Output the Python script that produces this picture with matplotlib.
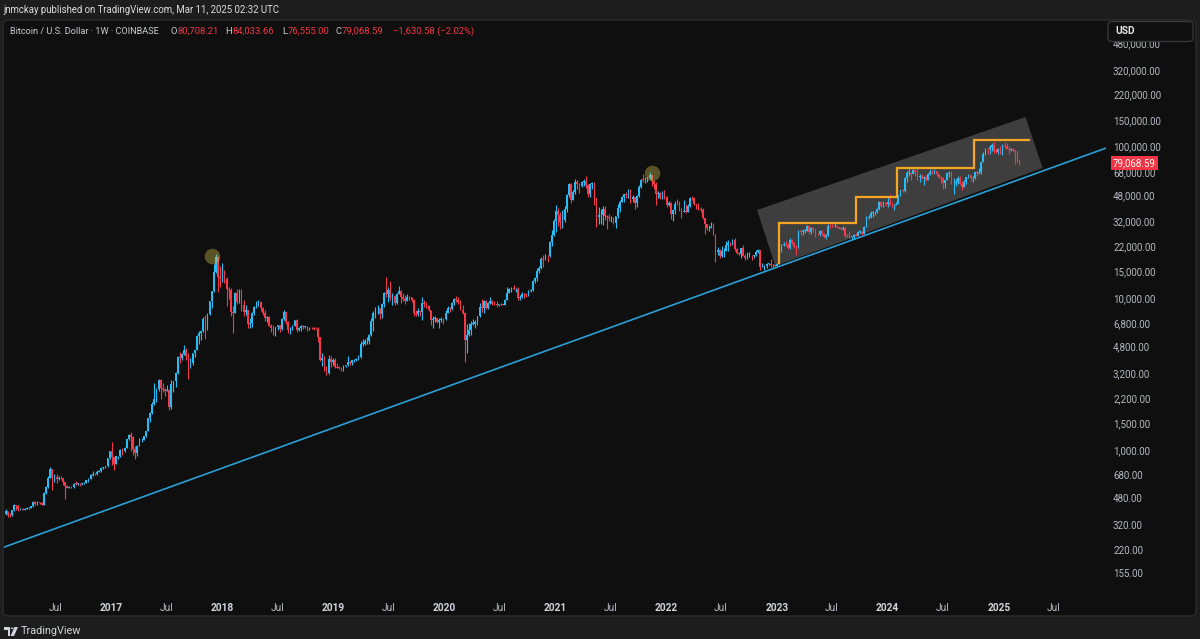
import numpy as np
import pandas as pd
import matplotlib
matplotlib.use('Agg')
import matplotlib.pyplot as plt
import matplotlib.dates as mdates
import matplotlib.transforms as mtrans
from matplotlib.patches import FancyBboxPatch, Polygon, Rectangle, Circle

plt.rcParams['font.family'] = ['Roboto', 'DejaVu Sans']

# weekly BTC candles, one list per year (close / high / low)
year_start = ['2016-01-04', '2017-01-02', '2018-01-01', '2019-01-07', '2020-01-06',
              '2021-01-04', '2022-01-03', '2023-01-02', '2024-01-01', '2025-01-06']
first_open = 431
last_open = 80708.21

close_2016 = [448, 382, 403, 378, 376, 407, 438, 432, 412, 414, 410, 416, 420, 421, 430, 460, 448, 459, 455, 442, 528, 575,
              664, 760, 665, 671, 648, 665, 658, 624, 590, 570, 578, 574, 608, 606, 609, 605, 612, 616, 638, 657, 698, 703,
              702, 730, 735, 766, 780, 790, 891, 998]
high_2016 = [465, 450, 412, 404, 392, 408, 445, 441, 440, 420, 420, 420, 425, 425, 432, 465, 470, 465, 462, 460, 535, 590,
             680, 780, 765, 705, 700, 680, 680, 665, 625, 600, 585, 590, 612, 630, 612, 612, 618, 620, 642, 660, 705, 740,
             720, 745, 745, 770, 780, 792, 900, 1000]
low_2016 = [425, 365, 375, 365, 364, 370, 400, 405, 400, 405, 405, 408, 412, 415, 418, 428, 440, 440, 448, 437, 440, 520,
            570, 660, 550, 620, 610, 645, 650, 600, 480, 570, 565, 570, 565, 600, 600, 590, 600, 605, 610, 628, 652, 680,
            698, 690, 725, 728, 755, 770, 788, 880]

close_2017 = [908, 822, 920, 920, 1015, 995, 1050, 1190, 1270, 1230, 1030, 965, 1080, 1180, 1180, 1250, 1345, 1640, 1780,
              2050, 2200, 2550, 2950, 2600, 2570, 2500, 2520, 1950, 2750, 2880, 3240, 4150, 4100, 4380, 4600, 4200, 3700,
              3800, 4400, 4600, 5700, 6000, 6150, 7400, 6550, 8000, 9700, 11300, 15000, 19100, 14000, 13800]
high_2017 = [1150, 910, 925, 925, 1030, 1050, 1065, 1200, 1290, 1330, 1260, 1070, 1090, 1210, 1220, 1260, 1350, 1650, 1800,
             2100, 2800, 2600, 2990, 3000, 2800, 2600, 2700, 2540, 2950, 2850, 3300, 4200, 4500, 4400, 4980, 4750, 4400,
             4100, 4450, 4600, 5850, 6200, 6200, 7600, 7900, 8100, 9750, 11400, 17000, 19800, 19200, 16500]
low_2017 = [810, 750, 820, 885, 915, 940, 990, 1050, 1180, 1000, 940, 890, 930, 1070, 1150, 1180, 1235, 1345, 1550, 1750,
            2000, 2100, 2500, 2200, 2450, 2300, 2480, 1850, 1900, 2450, 2650, 3200, 3800, 3950, 4300, 4000, 2980, 3500,
            3700, 4150, 4600, 5100, 5400, 6100, 5500, 6300, 7900, 8800, 11200, 14800, 11200, 12000]

close_2018 = [14200, 13600, 11600, 11500, 8200, 8100, 11000, 9600, 11500, 9200, 8200, 8500, 6900, 7000, 8100, 8900, 9400,
              9600, 8700, 8100, 7500, 7650, 6700, 6450, 6100, 6600, 6750, 6350, 7400, 8200, 7050, 6300, 6400, 6700, 7250,
              6250, 6500, 6700, 6600, 6600, 6300, 6450, 6420, 6400, 6350, 5600, 4000, 4100, 3500, 3250, 4050, 3850, 4000]
high_2018 = [17250, 15500, 14000, 12000, 11800, 9000, 11200, 11700, 11600, 11700, 9900, 9200, 8500, 7500, 8200, 9000, 9750,
             9950, 9700, 8900, 8500, 7800, 7800, 6900, 6800, 6600, 6800, 6800, 7500, 8500, 8250, 7150, 6600, 6800, 7300,
             7400, 6600, 6800, 6800, 6700, 6700, 6600, 6550, 6550, 6600, 6550, 5650, 4400, 4200, 3600, 4300, 4250, 4100]
low_2018 = [13000, 12800, 9000, 10000, 7700, 6000, 8100, 9300, 9400, 8400, 7700, 7900, 6500, 6500, 6600, 7900, 8700, 9000,
            8300, 7900, 7150, 7050, 6650, 6100, 5800, 5750, 6300, 6100, 6300, 7300, 6900, 6000, 5900, 6300, 6700, 6100,
            6200, 6150, 6400, 6500, 6150, 6350, 6350, 6300, 6350, 5200, 3900, 3600, 3350, 3150, 3200, 3580, 3700]

close_2019 = [3550, 3540, 3530, 3400, 3650, 3670, 3850, 3800, 3950, 4000, 4000, 4150, 5100, 5100, 5300, 5300, 5800, 7200,
              8100, 8700, 8700, 7950, 9300, 11000, 10800, 11450, 10200, 10500, 9500, 10800, 11400, 10300, 10100, 9750,
              10400, 10300, 9950, 8050, 7950, 8300, 8200, 9500, 9300, 9050, 8500, 7300, 7400, 7500, 7100, 7300, 7380, 7350]
high_2019 = [4100, 3800, 3620, 3550, 3700, 3700, 4200, 3900, 4000, 4050, 4100, 4300, 5300, 5500, 5500, 5650, 5900, 7500,
             8300, 8900, 9100, 8800, 9400, 11200, 13900, 12000, 13200, 11000, 10600, 11000, 12300, 11500, 10950, 10600,
             10900, 10450, 10400, 10100, 8500, 8800, 8400, 10400, 9900, 9600, 9100, 8500, 7800, 7750, 7550, 7500, 7650, 7500]
low_2019 = [3500, 3500, 3480, 3350, 3350, 3550, 3650, 3700, 3700, 3850, 3900, 3950, 4100, 4900, 5000, 5100, 5100, 5700,
            6200, 7500, 8000, 7450, 7500, 8900, 10300, 9600, 9900, 9100, 9100, 9350, 11000, 9500, 9800, 9350, 9700, 9900,
            9600, 7700, 7800, 7800, 7800, 7300, 8900, 8700, 8400, 6800, 6500, 7100, 6950, 6450, 7100, 6850]

close_2020 = [8100, 8700, 8600, 9400, 10100, 9900, 9650, 8550, 8050, 5400, 5800, 6250, 6900, 6900, 7100, 7700, 8900, 8700,
              9700, 8700, 9450, 9750, 9350, 9300, 9100, 9250, 9250, 9200, 9950, 11050, 11700, 11850, 11650, 11700, 10250,
              10350, 10900, 10750, 10650, 11400, 11500, 13100, 13800, 15450, 16000, 18400, 18200, 19350, 19150, 23800,
              26500, 33000]
high_2020 = [8500, 9000, 8900, 9600, 10200, 10500, 10300, 9950, 9200, 8200, 6900, 6950, 7200, 7450, 7300, 7800, 9400, 10000,
             9950, 9900, 9600, 10400, 9950, 9800, 9800, 9300, 9450, 9300, 10000, 12100, 11900, 12100, 12450, 11800, 12100,
             10700, 11100, 10980, 10950, 11500, 11750, 13350, 14000, 15950, 16500, 19000, 19500, 19900, 19500, 24300,
             28400, 34000]
low_2020 = [7300, 8100, 8250, 8500, 9200, 9600, 9300, 8500, 8000, 3850, 4450, 5700, 5850, 6750, 6450, 6800, 7600, 8200,
            8100, 8650, 8650, 9350, 9100, 9200, 8850, 8950, 9150, 9100, 9150, 9900, 10950, 11150, 11550, 11100, 9850,
            9900, 10200, 10150, 10400, 10550, 11200, 11400, 12800, 13200, 14850, 15800, 16300, 18000, 17600, 19000,
            22400, 26000]

close_2021 = [38200, 36000, 32300, 33100, 39200, 48600, 57500, 45200, 50900, 59000, 57500, 55800, 58800, 60000, 56200,
              49100, 57800, 58200, 46400, 34700, 35700, 35800, 39100, 35600, 34700, 34200, 34300, 31800, 35400, 39900,
              43800, 47000, 49300, 48800, 51800, 46000, 47300, 43200, 48200, 54900, 61500, 61300, 61300, 63300, 65500,
              59700, 57200, 49400, 50100, 46700, 50800, 47300]
high_2021 = [41900, 40100, 37800, 38500, 40900, 49700, 58300, 58200, 52600, 61800, 60600, 58300, 60200, 61600, 64900,
             57500, 58400, 59300, 59600, 46600, 40800, 39500, 41300, 41400, 36000, 36600, 35100, 34600, 35500, 42600,
             44800, 48200, 49200, 50500, 52900, 52900, 48800, 47300, 48500, 56500, 62000, 67000, 63700, 63900, 69000,
             66300, 59200, 59100, 51900, 50500, 51900, 52100]
low_2021 = [27800, 30400, 28900, 29300, 32300, 37500, 47000, 43000, 45000, 49300, 53300, 50400, 54800, 55500, 54000, 47000,
            47000, 53000, 42000, 30000, 31200, 31200, 31000, 33400, 28800, 32700, 32200, 31100, 29300, 34300, 37300,
            43800, 43900, 46400, 46600, 42800, 43400, 39600, 40800, 46900, 53900, 59500, 58000, 59500, 62300, 55600,
            53300, 42000, 46800, 45500, 45600, 45700]

close_2022 = [41900, 43100, 36300, 38500, 42400, 42200, 38400, 37700, 38400, 37800, 41300, 46800, 46400, 42200, 40400,
              39500, 38500, 34300, 31300, 29400, 29400, 29900, 26600, 20500, 21000, 19300, 20800, 20800, 22600, 23300,
              23200, 24400, 21500, 20300, 19800, 21800, 19400, 18800, 19300, 19400, 19200, 19600, 20600, 21000, 16300,
              16300, 16500, 17100, 17100, 16800, 16850, 16650]
high_2022 = [47600, 44500, 43500, 38900, 44500, 45800, 44700, 39800, 45400, 42600, 42400, 46900, 48200, 47500, 42400,
             42900, 40800, 40000, 34200, 31300, 30600, 32300, 31700, 26800, 22000, 21500, 22500, 21600, 24300, 24700,
             23700, 25000, 25200, 21900, 20600, 21800, 22700, 19900, 20400, 20500, 19700, 19700, 21000, 21500, 21000,
             17200, 16800, 17400, 17400, 18400, 17000, 16950]
low_2022 = [40500, 41200, 34000, 32900, 36300, 41700, 37900, 34300, 37400, 37100, 37600, 40500, 45200, 42000, 39200, 38500,
            37600, 33700, 26700, 28600, 28000, 29300, 26500, 17600, 19600, 18600, 19000, 18900, 20800, 20700, 22400,
            22700, 20800, 19800, 19500, 18600, 19300, 18200, 18500, 19100, 18200, 18800, 19300, 20100, 15600, 16200,
            15500, 16000, 16700, 16300, 16400, 16350]

close_2023 = [17100, 20900, 22700, 23000, 22900, 21800, 24600, 23500, 22200, 22100, 27900, 27800, 28200, 28300, 30300,
              27600, 29300, 28900, 26900, 26700, 28100, 27100, 25800, 26300, 30500, 30300, 30200, 30300, 29900, 29300,
              29000, 29400, 26100, 26000, 25800, 25800, 26500, 26200, 27900, 27900, 26800, 29900, 34500, 35000, 37100,
              37300, 37500, 39500, 43800, 41400, 43000, 42300]
high_2023 = [17200, 21300, 23000, 23800, 24200, 23400, 25200, 25000, 24000, 22600, 28600, 28900, 29200, 28800, 31000,
             30500, 30000, 30000, 29000, 27500, 28400, 28400, 27400, 26800, 31400, 31300, 31500, 31800, 30400, 30000,
             29900, 30200, 29700, 26800, 28100, 26100, 27000, 27500, 28100, 28600, 28000, 30300, 35200, 35900, 38000,
             37900, 38400, 40000, 44700, 44000, 44400, 43800]
low_2023 = [16500, 17100, 20600, 22300, 22500, 21400, 21500, 23100, 21900, 19600, 21900, 26600, 26600, 27200, 28200, 27000,
            26900, 27700, 25800, 26300, 25900, 26500, 25300, 24800, 26200, 29500, 29700, 29900, 29600, 28900, 28600,
            28700, 25200, 25700, 25400, 24900, 24900, 26000, 26000, 27200, 26600, 26800, 29700, 33900, 34500, 34800,
            35700, 36900, 39000, 40300, 40500, 41400]

close_2024 = [43900, 41700, 41600, 42000, 42600, 48300, 52100, 51700, 63100, 68400, 68400, 67200, 71300, 69400, 63900,
              64900, 63100, 63900, 61500, 66900, 68500, 67500, 69600, 66600, 64300, 62700, 58000, 60800, 68200, 68200,
              58100, 58700, 58900, 62900, 57300, 54800, 59100, 63600, 65600, 62800, 62900, 69000, 67900, 68800, 80400,
              90600, 97800, 97300, 101200, 104400, 95100, 93700, 98300]
high_2024 = [47000, 49000, 43600, 42200, 43900, 48500, 52800, 52900, 64000, 70100, 73800, 68900, 71700, 71300, 72800,
             66900, 67200, 64700, 65500, 67700, 71900, 70600, 72000, 70200, 67000, 64500, 63800, 61000, 68300, 69400,
             70000, 62700, 61800, 65000, 64900, 59800, 61200, 64100, 66500, 65600, 64400, 69400, 69500, 73600, 80300,
             93500, 99600, 98700, 103900, 107800, 108300, 99900, 99000]
low_2024 = [40700, 41500, 40300, 38500, 41900, 42300, 47700, 50600, 50900, 59000, 64500, 60800, 66500, 64500, 61000, 59600,
            62400, 56500, 60200, 60700, 66300, 66700, 67200, 65100, 63400, 58400, 53500, 54300, 60700, 63500, 57100,
            49000, 56100, 57800, 57200, 52600, 54600, 57500, 62700, 59800, 58900, 62400, 65100, 66800, 66800, 80000,
            89300, 90800, 90500, 94200, 92200, 92500, 91200]

close_2025 = [94500, 104400, 102600, 97700, 96500, 97500, 96200, 94200, 80708, 79068.59]
high_2025 = [102700, 106000, 109400, 106500, 102500, 98800, 99500, 96500, 95000, 84033.66]
low_2025 = [91200, 89200, 99500, 97700, 91200, 94100, 93400, 78200, 81500, 76555]

closes = [close_2016, close_2017, close_2018, close_2019, close_2020, close_2021, close_2022, close_2023, close_2024, close_2025]
highs = [high_2016, high_2017, high_2018, high_2019, high_2020, high_2021, high_2022, high_2023, high_2024, high_2025]
lows = [low_2016, low_2017, low_2018, low_2019, low_2020, low_2021, low_2022, low_2023, low_2024, low_2025]

# drawings on the chart
trend_dates = ['2016-01-13', '2025-12-01']
trend_prices = [232, 96000]
box_dates = ['2022-10-28', '2025-03-30', '2025-05-25', '2022-12-27']
box_prices = [38700, 158800, 73300, 16530]
step_dates = ['2023-01-08', '2023-09-20', '2024-01-31', '2024-10-10', '2025-04-12']
step_levels = [17330, 31940, 47400, 73600, 111500]
peak_dates = ['2017-11-28', '2021-11-16']
peak_prices = [19270, 68200]

ytick_vals = [155, 220, 320, 480, 680, 1000, 1500, 2200, 3200, 4800, 6800, 10000, 15000, 22000, 32000,
              48000, 68000, 100000, 150000, 220000, 320000, 480000]
year_labels = ['2017', '2018', '2019', '2020', '2021', '2022', '2023', '2024', '2025']
jul_labels = ['2016', '2017', '2018', '2019', '2020', '2021', '2022', '2023', '2024', '2025']

blue = '#27bdf4'
red = '#f23a4b'

# build the candle arrays
dates = []
c = []
h = []
l = []
for i in range(len(year_start)):
    d = pd.date_range(year_start[i], periods=len(closes[i]), freq='7D')
    dates += list(mdates.date2num(d))
    c += closes[i]
    h += highs[i]
    l += lows[i]
dates = np.array(dates)
c = np.array(c, float)
o = np.concatenate([[first_open], c[:-1]])
o[-1] = last_open
h = np.maximum(np.array(h, float), np.maximum(o, c))
l = np.minimum(np.array(l, float), np.minimum(o, c))

W, H = 1200, 639
fig = plt.figure(figsize=(12, 6.39), dpi=100)
fig.patch.set_facecolor('#1d1d1d')

def fx(px):
    return px / W

def fy(py):
    return 1 - py / H

panel = FancyBboxPatch((fx(3), fy(616)), fx(1193), (616 - 20) / H,
                       boxstyle='round,pad=0,rounding_size=0.006', transform=fig.transFigure,
                       facecolor='#0f0f0f', edgecolor='#2c2c2c', lw=1, zorder=-5)
fig.add_artist(panel)

ax = fig.add_axes([fx(4), fy(596), fx(1102), 575 / H])
ax.set_facecolor('none')
for s in ax.spines.values():
    s.set_visible(False)
ax.set_yscale('log')
xlim = mdates.date2num(pd.to_datetime(['2016-01-13', '2025-12-20']))
ax.set_xlim(xlim)
ax.set_ylim(110.5, 682000)
ax.set_xticks([])
ax.set_yticks([])
ax.yaxis.set_minor_locator(matplotlib.ticker.NullLocator())

# grey channel box
box_x = mdates.date2num(pd.to_datetime(box_dates))
ax.add_patch(Polygon(list(zip(box_x, box_prices)), closed=True, facecolor='#808080', alpha=0.42,
                     edgecolor='none', zorder=1))

# trend line extended across the whole chart
tx = mdates.date2num(pd.to_datetime(trend_dates))
k = (np.log10(trend_prices[1]) - np.log10(trend_prices[0])) / (tx[1] - tx[0])
ty = 10 ** (np.log10(trend_prices[0]) + k * (xlim - tx[0]))
ax.plot(xlim, ty, color='#2a9fd6', lw=1.2, zorder=2)

# candles
up = c >= o
bot = np.minimum(o, c)
top = np.maximum(np.maximum(o, c), bot * 1.006)
for mask, col in [(up, blue), (~up, red)]:
    ax.vlines(dates[mask], l[mask], h[mask], color=col, lw=0.8, zorder=3)
    ax.bar(dates[mask], top[mask] - bot[mask], bottom=bot[mask], width=5.4, color=col, lw=0, zorder=3)

# orange steps
sx = mdates.date2num(pd.to_datetime(step_dates))
px = [sx[0]]
py = [step_levels[0]]
for i in range(1, len(step_levels)):
    px += [sx[i - 1], sx[i]]
    py += [step_levels[i], step_levels[i]]
ax.plot(px, py, color='#f5a623', lw=1.6, zorder=4, solid_joinstyle='miter')

# peak markers
ax.scatter(mdates.date2num(pd.to_datetime(peak_dates)), peak_prices, s=125, color='#d4c44a',
           alpha=0.38, lw=0, zorder=5)

# price scale labels
blend = mtrans.blended_transform_factory(ax.transAxes, ax.transData)
for v in ytick_vals:
    ax.text(1.0064, v, f'{v:,.2f}', transform=blend, ha='left', va='center', fontsize=7,
            color='#b6b9c2', clip_on=False)
ax.text(1.0064, c[-1], f'{c[-1]:,.2f}', transform=blend, ha='left', va='center', fontsize=7,
        color='white', clip_on=False, zorder=10,
        bbox=dict(boxstyle='square,pad=0.22', fc='#f23645', ec='none'))

# time scale labels
blend_x = mtrans.blended_transform_factory(ax.transData, ax.transAxes)
for y in year_labels:
    ax.text(mdates.date2num(pd.Timestamp(y + '-01-01')), -0.021, y, transform=blend_x, ha='center',
            va='center', fontsize=7.3, fontweight='bold', color='#d1d4dc', clip_on=False)
for y in jul_labels:
    ax.text(mdates.date2num(pd.Timestamp(y + '-07-01')), -0.021, 'Jul', transform=blend_x, ha='center',
            va='center', fontsize=7.3, color='#b6b9c2', clip_on=False)

# currency box, covers the top label like in the app
usd = FancyBboxPatch((fx(1108), fy(41.5)), fx(85), 20 / H, boxstyle='round,pad=0,rounding_size=0.004',
                     transform=fig.transFigure, facecolor='#101010', edgecolor='#3a3a3a', lw=0.9, zorder=20)
fig.add_artist(usd)
fig.text(fx(1115), fy(31.5), 'USD', fontsize=7.3, fontweight='bold', color='#e6e6e6', va='center', zorder=21)

# header
fig.text(fx(3), fy(10), 'jnmckay published on TradingView.com, Mar 11, 2025 02:32 UTC', fontsize=6.9,
         color='#dcdcdc', va='center')
fig.text(fx(10), fy(31), 'Bitcoin / U.S. Dollar \u00b7 1W \u00b7 COINBASE', fontsize=6.6, color='#c9ccd4', va='center')
ohlc = [('O', 177.5, '80,708.21'), ('H', 232.5, '84,033.66'), ('L', 287.5, '76,555.00'),
        ('C', 342.0, '79,068.59')]
for lab, vx, val in ohlc:
    fig.text(fx(vx - 0.5), fy(31), lab, fontsize=6.8, color='#c9ccd4', va='center', ha='right')
    fig.text(fx(vx), fy(31), val, fontsize=6.8, color='#f23645', va='center')
fig.text(fx(393), fy(31), '\u22121,630.58 (\u22122.02%)', fontsize=6.8, color='#f23645', va='center')

# tradingview logo at the bottom
logo_col = '#d1d4dc'
fig.add_artist(Rectangle((fx(4), fy(629.5)), fx(6), 2.5 / H, transform=fig.transFigure, color=logo_col, lw=0))
fig.add_artist(Rectangle((fx(7.5), fy(636)), fx(2.5), 9 / H, transform=fig.transFigure, color=logo_col, lw=0))
fig.add_artist(Polygon([(fx(14.5), fy(627)), (fx(18), fy(627)), (fx(14), fy(636)), (fx(10.5), fy(636))],
                       closed=True, transform=fig.transFigure, color=logo_col, lw=0))
fig.add_artist(Circle((fx(12.2), fy(628.3)), 1.4 / W, transform=fig.transFigure, color=logo_col, lw=0))
fig.text(fx(21), fy(631.5), 'TradingView', fontsize=7.8, color=logo_col, va='center')

fig.savefig('out.png', dpi=100, facecolor=fig.get_facecolor())
